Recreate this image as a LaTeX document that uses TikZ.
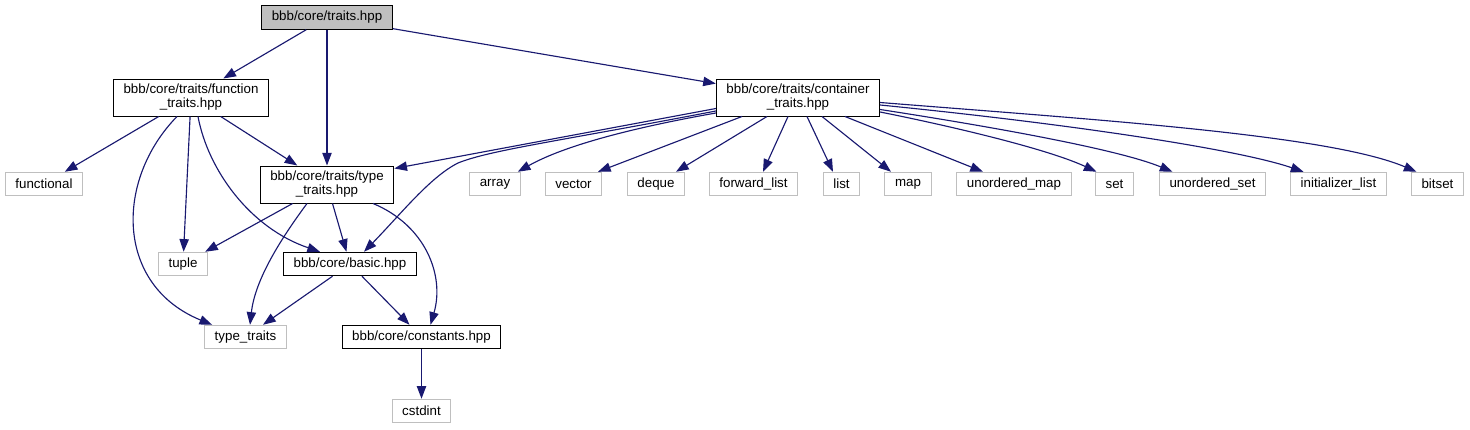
\documentclass[tikz,border=0pt]{standalone}
\usepackage{fontspec}
\setmainfont{Liberation Sans}
\usetikzlibrary{arrows.meta, calc}
\definecolor{edgeblue}{HTML}{191970}
\definecolor{sysgray}{HTML}{BFBFBF}

\begin{document}
\begin{tikzpicture}[x=0.75pt, y=-0.75pt, >={Triangle[length=9.5pt, width=7pt]},
    hbox/.style={rectangle, draw, line width=0.75pt, font=\fontsize{10}{10.5}\selectfont,
        inner xsep=7.6pt, inner ysep=2pt, minimum height=17.6pt, align=center},
    projhdr/.style={hbox, draw=black},
    twoline/.style={minimum height=27.75pt},
    syshdr/.style={hbox, draw=sysgray},
    incl/.style={->, draw=edgeblue, line width=0.85pt}]
    \useasboundingbox (0,0) rectangle (1470,429);

    % project headers
    \node[projhdr, fill=sysgray] (traits) at (327,17.5) {bbb/core/traits.hpp};
    \node[projhdr, twoline] (fntraits) at (191,97.5) {bbb/core/traits/function\\\_traits.hpp};
    \node[projhdr, twoline] (cntraits) at (798,97.5) {bbb/core/traits/container\\\_traits.hpp};
    \node[projhdr, twoline] (tytraits) at (327,184.5) {bbb/core/traits/type\\\_traits.hpp};
    \node[projhdr] (basic) at (350,264) {bbb/core/basic.hpp};
    \node[projhdr] (consts) at (421.5,337) {bbb/core/constants.hpp};

    % standard headers
    \node[syshdr] (functional) at (44,184) {functional};
    \node[syshdr] (array) at (495,184) {array};
    \node[syshdr] (vector) at (573.5,184) {vector};
    \node[syshdr] (deque) at (656,184) {deque};
    \node[syshdr] (fwdlist) at (753.5,184) {forward\_list};
    \node[syshdr] (list) at (841.5,184) {list};
    \node[syshdr] (map) at (908,184) {map};
    \node[syshdr] (umap) at (1014,184) {unordered\_map};
    \node[syshdr] (set) at (1114.5,184) {set};
    \node[syshdr] (uset) at (1212.5,184) {unordered\_set};
    \node[syshdr] (initlist) at (1338.5,184) {initializer\_list};
    \node[syshdr] (bitset) at (1437.5,184) {bitset};
    \node[syshdr] (tuple) at (183,264) {tuple};
    \node[syshdr] (stdtt) at (245.5,337) {type\_traits};
    \node[syshdr] (cstdint) at (421.5,411) {cstdint};

    \draw[incl] (traits) -- (fntraits);
    \draw[incl] (traits) -- (tytraits);
    \draw[incl] (traits) -- (cntraits);

    \draw[incl] (fntraits) -- (functional);
    \draw[incl] (fntraits) -- (tuple);
    \draw[incl] (fntraits) -- (tytraits);
    \draw[incl] ($(fntraits.south)+(-14,0)$) .. controls (115,180) and (115,285) .. ($(stdtt.north west)+(8,0)$);
    \draw[incl] ($(fntraits.south)+(7,0)$) .. controls (208,170) and (250,228) .. ($(basic.north)+(-30,0)$);

    \draw[incl] (tytraits) -- (tuple);
    \draw[incl] (tytraits) -- (basic);
    \draw[incl] ($(tytraits.south)+(-20,0)$) .. controls (280,240) and (255,280) .. ($(stdtt.north)+(4.5,0)$);
    \draw[incl] ($(tytraits.south)+(46,0)$) .. controls (425,225) and (445,275) .. ($(consts.north)+(9,0)$);

    \draw[incl] (basic) -- (stdtt);
    \draw[incl] (basic) -- (consts);
    \draw[incl] (consts) -- (cstdint);

    \draw[incl] ($(cntraits.west)+(0,11)$) -- ($(tytraits.north east)+(0,3)$);
    \draw[incl] ($(cntraits.west)+(0,13.5)$) .. controls (560,141) and (490,150) .. (458,163)
        .. controls (430,177) and (400,215) .. ($(basic.north)+(14,0)$);
    \draw[incl] ($(cntraits.west)+(0,15.5)$) .. controls (620,130) and (560,148) .. ($(array.north east)+(-3,0)$);
    \draw[incl] ($(cntraits.south)+(-56,0)$) -- ($(vector.north)+(24.5,0)$);
    \draw[incl] ($(cntraits.south)+(-31,0)$) -- ($(deque.north)+(20,0)$);
    \draw[incl] ($(cntraits.south)+(-10,0)$) -- ($(fwdlist.north)+(9.5,0)$);
    \draw[incl] ($(cntraits.south)+(9,0)$) -- ($(list.north)+(-8.5,0)$);
    \draw[incl] ($(cntraits.south)+(24,0)$) -- ($(map.north)+(-17,0)$);
    \draw[incl] ($(cntraits.south)+(47,0)$) -- ($(umap.north)+(-31,0)$);
    \draw[incl] ($(cntraits.east)+(0,14.5)$) .. controls (960,128) and (1050,150) .. ($(set.north)+(-18,0)$);
    \draw[incl] ($(cntraits.east)+(0,12)$) .. controls (1000,128) and (1120,150) .. ($(uset.north)+(-40,0)$);
    \draw[incl] ($(cntraits.east)+(0,7.5)$) .. controls (1080,125) and (1240,150) .. ($(initlist.north)+(-35,0)$);
    \draw[incl] ($(cntraits.east)+(0,5)$) .. controls (1100,120) and (1330,135) .. ($(bitset.north)+(-21,0)$);
\end{tikzpicture}
\end{document}
